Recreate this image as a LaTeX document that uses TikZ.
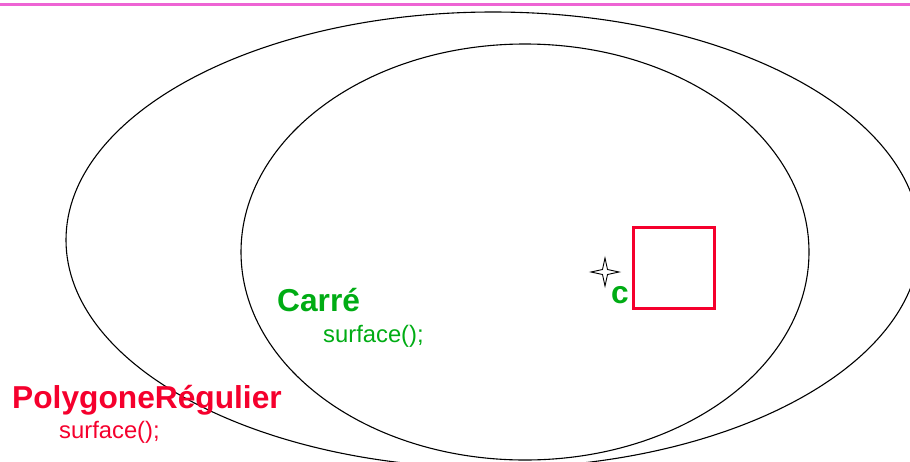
\documentclass[tikz,border=0pt]{standalone}
\usepackage{fontspec}
\setmainfont{Liberation Sans}
\definecolor{rulepink}{RGB}{238,100,212}
\definecolor{classred}{RGB}{245,0,45}
\definecolor{classgreen}{RGB}{0,172,20}
\tikzset{
  setline/.style={draw=black, line width=1.1pt},
  classname/.style={inner sep=0pt, anchor=base west, font=\fontsize{31.7}{36}\selectfont\bfseries},
  methodname/.style={inner sep=0pt, anchor=base west, font=\fontsize{23.8}{27}\selectfont},
  shapebox/.style={draw=classred, line width=3pt},
  starmark/.style={draw=black, fill=white, line width=0.9pt, line join=miter}
}
\begin{document}
\begin{tikzpicture}[x=1pt,y=-1pt]
  \useasboundingbox (0,0) rectangle (910,461);
  \clip (0,0) rectangle (910,461);
  % top rule
  \coordinate (ruleL) at (0,4.5);
  \coordinate (ruleR) at (910,4.5);
  \draw[rulepink, line width=3.4pt] (ruleL) -- (ruleR);
  % class sets
  \coordinate (polyC) at (493,240);
  \coordinate (carreC) at (525,252);
  \draw[setline] (polyC) ellipse [x radius=427, y radius=228];
  \draw[setline] (carreC) ellipse [x radius=284, y radius=208];
  % labels
  \node[classname, text=classred] (polyname) at (12,408) {PolygoneRégulier};
  \node[methodname, text=classred] (polysurf) at (59,438) {surface();};
  \node[classname, text=classgreen] (carrename) at (277,311) {Carré};
  \node[methodname, text=classgreen] (carresurf) at (323,342) {surface();};
  % instance c
  \node[draw=none, inner sep=0pt, minimum size=0pt] (cinst) at (605,272) {};
  \draw[starmark] (605,258) -- (607.5,269.5) -- (619,272) -- (607.5,274.5)
     -- (605,286) -- (602.5,274.5) -- (591,272) -- (602.5,269.5) -- cycle;
  \node[classname, text=classgreen] (clabel) at (611,303) {c};
  \node[shapebox, minimum width=81pt, minimum height=81pt, inner sep=0pt] (square) at (673.5,267.5) {};
\end{tikzpicture}
\end{document}
